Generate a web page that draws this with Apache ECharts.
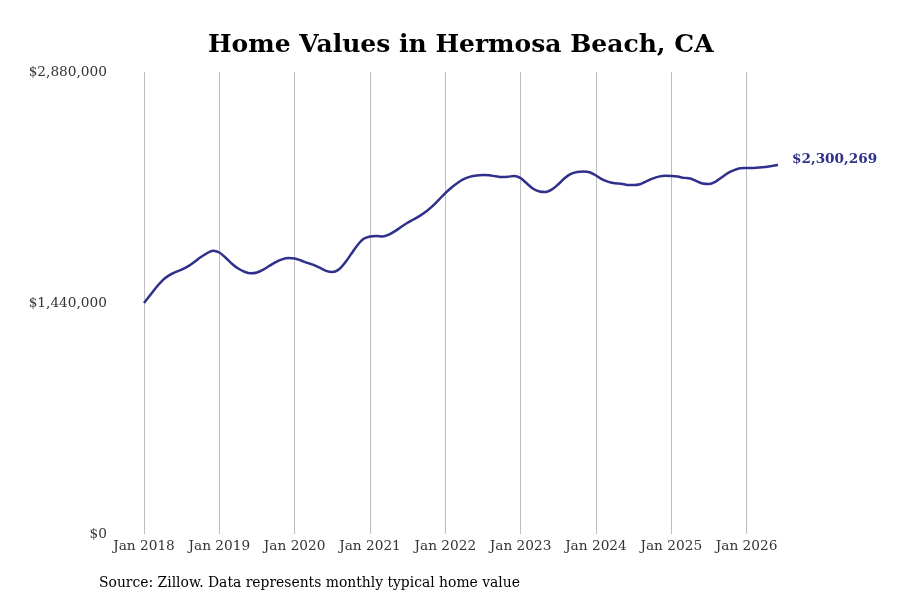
<!DOCTYPE html>
<html lang="en">
  <head>
    <meta charset="UTF-8" />
    <title>Home Values in Hermosa Beach, CA</title>
    <script src="https://cdn.jsdelivr.net/npm/echarts@6.0.0/dist/echarts.min.js"></script>
    <style>
      body {
        margin: 0;
        padding: 0;
        background: #fff;
      }
      #main {
        width: 900px;
        height: 600px;
      }
    </style>
  </head>
  <body>
    <div id="main"></div>

    <script>
      // Month labels, Jan 2018 .. Jun 2026
      const monthNames = ["Jan", "Feb", "Mar", "Apr", "May", "Jun", "Jul", "Aug", "Sep", "Oct", "Nov", "Dec"];
      const years = [2018, 2019, 2020, 2021, 2022, 2023, 2024, 2025, 2026];
      const months = [];
      years.forEach((y) => {
        monthNames.forEach((m, i) => {
          if (y < 2026 || i < 6) months.push(m + " " + y);
        });
      });

      // Typical home value (USD)
      const homeValues = [
        1440000, 1490000, 1540000, 1583000, 1612000, 1632000, 1648000, 1668000, 1695000, 1725000, 1750000, 1766000,
        1755000, 1722000, 1685000, 1655000, 1635000, 1625000, 1630000, 1648000, 1672000, 1695000, 1712000, 1720000,
        1718000, 1705000, 1690000, 1678000, 1660000, 1640000, 1633000, 1648000, 1690000, 1745000, 1800000, 1840000,
        1855000, 1858000, 1855000, 1866000, 1888000, 1915000, 1940000, 1962000, 1985000, 2012000, 2045000, 2085000,
        2125000, 2160000, 2190000, 2213000, 2228000, 2235000, 2238000, 2236000, 2230000, 2225000, 2227000, 2232000,
        2218000, 2185000, 2152000, 2135000, 2132000, 2148000, 2180000, 2218000, 2245000, 2257000, 2260000, 2255000,
        2235000, 2210000, 2195000, 2186000, 2184000, 2176000, 2175000, 2180000, 2198000, 2215000, 2228000, 2234000,
        2232000, 2228000, 2220000, 2216000, 2200000, 2185000, 2182000, 2195000, 2222000, 2250000, 2268000, 2280000,
        2281000, 2282000, 2284000, 2288000, 2294000, 2300269,
      ];

      const yTicks = [0, 1440000, 2880000];
      const lineColor = "#2f2f8c";
      const serif = "DejaVu Serif";

      function money(v) {
        return "$" + Math.round(v).toLocaleString("en-US");
      }

      const myChart = echarts.init(document.getElementById("main"));
      const option = {
        animation: false,
        textStyle: { fontFamily: serif },
        title: [
          {
            text: "Home Values in Hermosa Beach, CA",
            left: 208,
            top: 33,
            padding: 0,
            textStyle: { fontFamily: serif, fontSize: 25, fontWeight: "bold", color: "#000" },
          },
          {
            text: "Source: Zillow. Data represents monthly typical home value",
            left: 99,
            top: 576,
            padding: 0,
            textStyle: { fontFamily: serif, fontSize: 13.9, fontWeight: "normal", color: "#000" },
          },
        ],
        grid: { left: 144, right: 122, top: 72, bottom: 66, containLabel: false },
        xAxis: {
          type: "category",
          data: months,
          boundaryGap: false,
          axisLine: { show: false },
          axisTick: { show: false },
          axisLabel: {
            interval: (i) => i % 12 === 0,
            fontFamily: serif,
            fontSize: 13.7,
            color: "#333",
            margin: 5,
          },
          splitLine: {
            show: true,
            interval: (i) => i % 12 === 0,
            lineStyle: { color: "#bdbdbd", width: 1 },
          },
        },
        yAxis: {
          type: "value",
          min: yTicks[0],
          max: yTicks[2],
          interval: yTicks[1],
          axisLine: { show: false },
          axisTick: { show: false },
          splitLine: { show: false },
          axisLabel: {
            formatter: money,
            fontFamily: serif,
            fontSize: 13.7,
            color: "#333",
            margin: 37,
          },
        },
        series: [
          {
            name: "Home value",
            type: "line",
            data: homeValues,
            smooth: 0.3,
            showSymbol: false,
            lineStyle: { color: lineColor, width: 2.5 },
            endLabel: {
              show: true,
              formatter: (p) => money(p.value),
              color: lineColor,
              fontFamily: serif,
              fontSize: 13.6,
              fontWeight: "bold",
              distance: 14,
              offset: [0, -6],
            },
          },
        ],
      };

      myChart.setOption(option);
    </script>
  </body>
</html>
